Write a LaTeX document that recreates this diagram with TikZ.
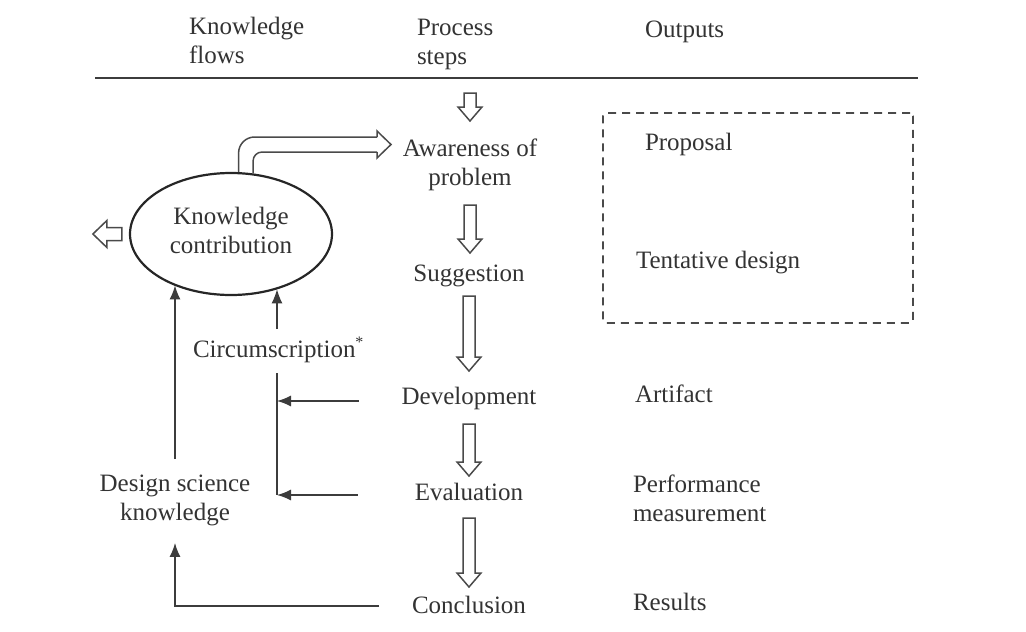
\documentclass[tikz,border=0pt]{standalone}
\usepackage{fontspec}
\setmainfont{Liberation Serif}
\usetikzlibrary{arrows.meta,calc,shapes.geometric}
\definecolor{ink}{HTML}{333333}
\definecolor{linec}{HTML}{3C3C3C}
\definecolor{holc}{HTML}{4A4A4A}
\tikzset{
  lbl/.style={font=\fontsize{25}{29}\selectfont, text=ink, inner sep=0pt, outer sep=0pt},
  arr/.style={draw=linec, line width=1.3pt, -{Latex[length=14pt,width=11pt]}},
  thin/.style={draw=linec, line width=1.3pt},
  hol/.style={draw=holc, line width=1.5pt, line join=miter},
}
% hollow downward arrow: #1 top point, #2 tip point
\newcommand\hdown[2]{%
  \draw[hol, fill=white] let \p1=(#1), \p2=(#2) in
   (\x1-6pt,\y1) -- (\x1-6pt,\y2+14pt) -- (\x1-12pt,\y2+14pt) -- (\x1,\y2)
   -- (\x1+12pt,\y2+14pt) -- (\x1+6pt,\y2+14pt) -- (\x1+6pt,\y1) -- cycle;}
\begin{document}
\begin{tikzpicture}[x=1pt,y=-1pt]
\useasboundingbox (0,0) rectangle (1026,632);
% headers
\node[lbl, align=left, anchor=north west] (hkf) at (189,17) {Knowledge\\flows};
\node[lbl, align=left, anchor=north west] (hps) at (417,19) {Process\\steps};
\node[lbl, anchor=base west] (hout) at (645,37) {Outputs};
\coordinate (hl1) at (95,78);
\coordinate (hl2) at (918,78);
\draw[draw=linec, line width=2.6pt] (hl1) -- (hl2);
% process steps
\node[lbl, align=center, anchor=north] (aware) at (470,139) {Awareness of\\problem};
\node[lbl, anchor=base] (sugg) at (469,281) {Suggestion};
\node[lbl, anchor=base] (dev) at (469,404) {Development};
\node[lbl, anchor=base] (eval) at (469,500) {Evaluation};
\node[lbl, anchor=base] (concl) at (469,613) {Conclusion};
% hollow arrows
\hdown{$(aware.north |- hl1)+(0,15)$}{aware.north |- 0,121}
\hdown{aware.south |- 0,205}{sugg.north |- 0,253}
\hdown{sugg.south |- 0,296}{dev.north |- 0,371}
\hdown{dev.south |- 0,424}{eval.north |- 0,476}
\hdown{eval.south |- 0,518}{concl.north |- 0,587}
% outputs
\node[lbl, anchor=base west] (prop) at (645,150) {Proposal};
\node[lbl, anchor=base west] (tent) at (636,268) {Tentative design};
\node[draw=holc, line width=1.6pt, dash pattern=on 8pt off 6pt, rounded corners=3pt,
      minimum width=310pt, minimum height=210pt, inner sep=0pt] (obox) at (758,218) {};
\node[lbl, anchor=base west] (art) at (635,402) {Artifact};
\node[lbl, align=left, anchor=north west] (perf) at (633,475) {Performance\\measurement};
\node[lbl, anchor=base west] (res) at (633,610) {Results};
% knowledge flows
\node[ellipse, draw=black!85, line width=2.2pt, minimum width=202pt, minimum height=122pt,
      inner sep=0pt] (kc) at (231,234) {};
\node[lbl, align=center] (kct) at (231,230) {Knowledge\\contribution};
\node[lbl, anchor=base west] (circ) at (193,357) {Circumscription\textsuperscript{\fontsize{16}{16}\selectfont *}};
\node[lbl, align=center, anchor=north] (dsk) at (175,475) {Design science\\knowledge};
% double curved hollow arrow from kc to awareness
\draw[hol, rounded corners=16pt] (kc.83.5) -- (kc.83.5 |- 0,137) -- (377,137);
\draw[hol, rounded corners=9pt] (kc.70) -- (kc.70 |- 0,152) -- (377,152);
\draw[hol] (377,137) -- (377,131) -- (391,144.5) -- (377,158) -- (377,152);
% left hollow arrow
\draw[hol, shift={(kc.west)}] (-7,-6.5) -- (-22,-6.5) -- (-22,-13.5) -- (-36,0)
   -- (-22,13.5) -- (-22,6.5) -- (-7,6.5) -- cycle;
% vertical arrows into kc
\draw[arr] ([yshift=16pt]dsk.north) -- (dsk.north |- kc.222.3);
\coordinate (c1) at (277,329);
\coordinate (c2) at (277,373);
\draw[arr] (c1) -- (c1 |- kc.310.3);
\coordinate (vb) at (277,495);
\draw[thin] (c2) -- (vb);
\draw[arr] ([xshift=-43pt]dev.west |- 0,401) -- (c2 |- 0,401);
\draw[arr] ([xshift=-57pt]eval.west |- vb) -- (vb);
% conclusion back to design science knowledge
\draw[arr] ([xshift=-33pt]concl.west |- 0,606) -| ([yshift=-17pt]dsk.south);
\end{tikzpicture}
\end{document}
